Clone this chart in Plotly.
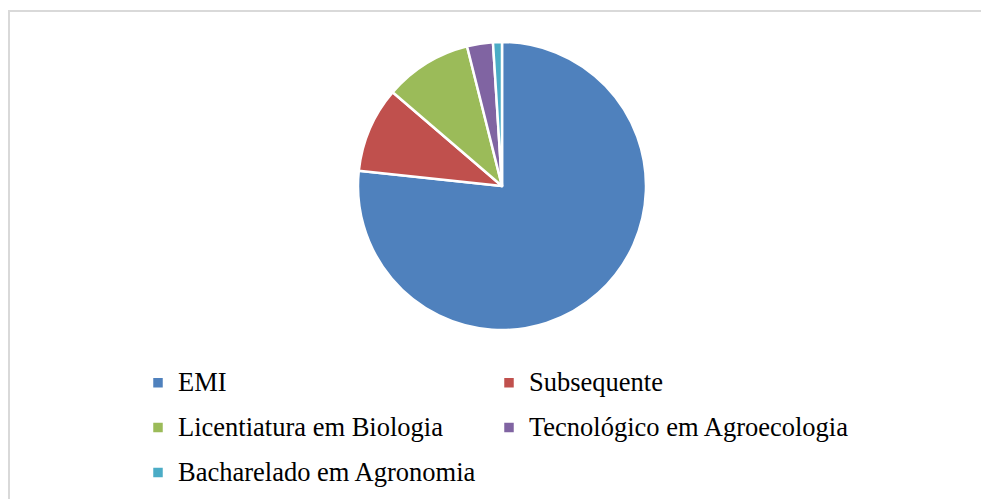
import plotly.graph_objects as go

# Data
categories = ["EMI", "Subsequente", "Licentiatura em Biologia",
              "Tecnológico em Agroecologia", "Bacharelado em Agronomia"]
values = [76.6, 9.6, 9.8, 2.9, 1.0]
colors = ["#4F81BD", "#C0504D", "#9BBB59", "#8064A2", "#4BACC6"]

W, H = 981, 499
TEXT_SIZE = 26.5
ROW_FONT = 32.2  # controls legend row pitch


def px_x(x):
    return x / W


def px_y(y):
    return 1 - y / H


display_labels = [
    f"<span style='font-size:{TEXT_SIZE}px;baseline-shift:4px'>{c}</span>"
    for c in categories
]

# invisible, zero-height legend title only used to widen the legend clip box
legend_title = "<span style='font-size:30px'>" + "\u00a0" * 110 + "</span>"

fig = go.Figure(
    go.Pie(
        labels=display_labels,
        values=values,
        sort=False,
        direction="clockwise",
        rotation=0,
        textinfo="none",
        hoverinfo="skip",
        marker=dict(colors=colors, line=dict(color="white", width=2.5)),
        domain=dict(x=[px_x(358), px_x(646)], y=[px_y(330), px_y(42)]),
    )
)

fig.update_layout(
    width=W,
    height=H,
    margin=dict(l=0, r=0, t=0, b=0, autoexpand=False),
    paper_bgcolor="white",
    plot_bgcolor="white",
    showlegend=True,
    legend=dict(
        orientation="h",
        x=px_x(138),
        xanchor="left",
        y=px_y(354),
        yanchor="top",
        entrywidth=306,
        entrywidthmode="pixels",
        itemwidth=30,
        font=dict(family="Liberation Serif, Times New Roman, serif",
                  size=ROW_FONT, color="#000000"),
        title=dict(text=legend_title, side="top",
                   font=dict(size=1, color="rgba(0,0,0,0)")),
        bgcolor="rgba(0,0,0,0)",
        traceorder="normal",
    ),
    shapes=[
        dict(type="rect", xref="paper", yref="paper",
             x0=px_x(9), x1=1.05, y0=-0.05, y1=px_y(11),
             line=dict(color="#D9D9D9", width=2), fillcolor="rgba(0,0,0,0)",
             layer="below"),
    ],
)

fig.write_html(
    "out.html",
    config={"displayModeBar": False},
    post_script="document.body.style.margin='0';document.body.style.overflow='hidden';",
)
